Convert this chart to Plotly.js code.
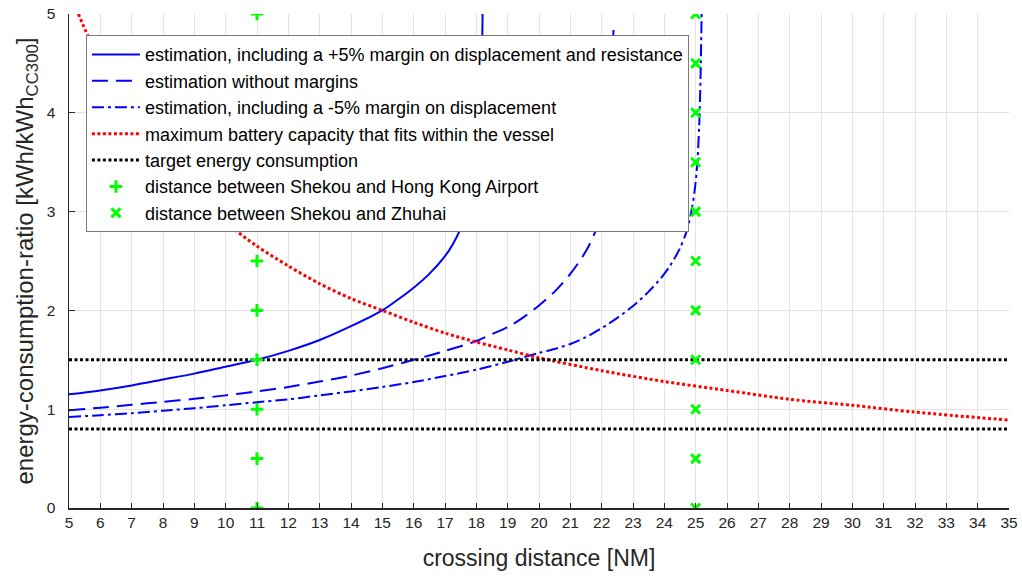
<!DOCTYPE html>
<html>
<head>
<meta charset="utf-8">
<script src="https://cdn.plot.ly/plotly-3.0.1.min.js"></script>
<style>
  html, body { margin: 0; padding: 0; background: #ffffff; }
  #chart { width: 1022px; height: 576px; }
</style>
</head>
<body>
<div id="chart"></div>
<script>
// Energy-consumption ratio versus crossing distance [NM]

// estimation including a +5% margin on displacement and resistance
const plusMarginX = [5, 6, 7, 8, 9, 10, 11, 12, 13, 14, 15, 15.5, 16, 16.5, 17, 17.25, 17.5, 17.7, 17.85, 18.0, 18.1, 18.17, 18.2];
const plusMarginY = [1.15, 1.19, 1.24, 1.30, 1.36, 1.43, 1.50, 1.59, 1.70, 1.84, 2.00, 2.11, 2.23, 2.37, 2.55, 2.67, 2.83, 3.02, 3.22, 3.55, 3.95, 4.45, 5.00];

// estimation without margins
const noMarginX = [5, 6, 7, 8, 9, 10, 11, 12, 13, 14, 15, 16, 17, 18, 18.5, 19, 19.5, 20, 20.5, 21, 21.5, 21.8, 22, 22.15, 22.25, 22.33, 22.38];
const noMarginY = [0.99, 1.015, 1.045, 1.075, 1.105, 1.14, 1.18, 1.225, 1.28, 1.34, 1.415, 1.50, 1.59, 1.69, 1.76, 1.83, 1.93, 2.05, 2.19, 2.37, 2.60, 2.80, 3.00, 3.30, 3.70, 4.20, 4.90];

// estimation including a -5% margin on displacement
const minusMarginX = [5, 6, 7, 8, 9, 10, 11, 12, 13, 14, 15, 16, 17, 18, 19, 20, 20.5, 21, 21.5, 22, 22.5, 23, 23.5, 23.9, 24.2, 24.5, 24.7, 24.85, 24.97, 25.05, 25.11, 25.155, 25.19];
const minusMarginY = [0.92, 0.94, 0.96, 0.985, 1.01, 1.04, 1.07, 1.10, 1.14, 1.18, 1.225, 1.275, 1.335, 1.40, 1.48, 1.57, 1.61, 1.66, 1.73, 1.82, 1.925, 2.045, 2.19, 2.33, 2.46, 2.63, 2.79, 2.98, 3.22, 3.48, 3.85, 4.35, 5.00];

// maximum battery capacity that fits within the vessel
const batteryX = [5.3, 5.6, 6, 6.5, 7, 7.5, 8, 9, 10, 11, 12, 13, 14, 15, 16, 17, 18, 19, 20, 22, 24, 26, 28, 30, 32, 35];
const batteryY = [5.00, 4.78, 4.52, 4.20, 3.95, 3.73, 3.53, 3.18, 2.89, 2.65, 2.45, 2.27, 2.12, 2.00, 1.88, 1.77, 1.68, 1.60, 1.52, 1.39, 1.28, 1.19, 1.10, 1.04, 0.97, 0.89];

// target energy consumption levels
const targetLevels = [1.5, 0.8];
const distanceRange = [5, 35];

// route distances [NM]
const distHongKongAirport = 11;
const distZhuhai = 25;
const markerLevels = [0, 0.5, 1, 1.5, 2, 2.5, 3, 3.5, 4, 4.5, 5];

const names = [
  'estimation, including a +5% margin on displacement and resistance',
  'estimation without margins',
  'estimation, including a -5% margin on displacement',
  'maximum battery capacity that fits within the vessel',
  'target energy consumption',
  'distance between Shekou and Hong Kong Airport',
  'distance between Shekou and Zhuhai'
];

const BLUE = '#0000ff', RED = '#ff0000', GREEN = '#00ff00', BLACK = '#000000';

// horizontal target lines joined into one trace, separated by gaps
const targetX = [], targetY = [];
targetLevels.forEach((lv, i) => {
  if (i > 0) { targetX.push(null); targetY.push(null); }
  targetX.push(distanceRange[0], distanceRange[1]);
  targetY.push(lv, lv);
});

const traces = [
  { x: plusMarginX, y: plusMarginY, name: names[0], mode: 'lines',
    line: { color: BLUE, width: 2, shape: 'spline', smoothing: 0.8 } },
  { x: noMarginX, y: noMarginY, name: names[1], mode: 'lines',
    line: { color: BLUE, width: 2, dash: '16px,8px', shape: 'spline', smoothing: 0.8 } },
  { x: minusMarginX, y: minusMarginY, name: names[2], mode: 'lines',
    line: { color: BLUE, width: 2, dash: '12px,4px,3px,4px', shape: 'spline', smoothing: 0.8 } },
  { x: batteryX, y: batteryY, name: names[3], mode: 'lines',
    line: { color: RED, width: 3, dash: '3px,2.5px', shape: 'spline', smoothing: 0.8 } },
  { x: targetX, y: targetY, name: names[4], mode: 'lines', connectgaps: false,
    line: { color: BLACK, width: 3, dash: '3px,2.5px' } },
  { x: markerLevels.map(() => distHongKongAirport), y: markerLevels, name: names[5], mode: 'markers',
    marker: { symbol: 'cross-thin', size: 9, color: GREEN, line: { color: GREEN, width: 3 } } },
  { x: markerLevels.map(() => distZhuhai), y: markerLevels, name: names[6], mode: 'markers',
    marker: { symbol: 'x-thin', size: 9, color: GREEN, line: { color: GREEN, width: 3 } } }
];

const FONT = 'Liberation Sans, Arial, sans-serif';
const AXIS_COLOR = '#262626';
const GRID_COLOR = '#e3e3e3';

const layout = {
  width: 1022,
  height: 576,
  margin: { l: 69, r: 13, t: 14, b: 68 },
  paper_bgcolor: '#ffffff',
  plot_bgcolor: '#ffffff',
  font: { family: FONT, color: AXIS_COLOR, size: 15 },
  showlegend: true,
  legend: {
    x: 0.018, y: 0.957, xanchor: 'left', yanchor: 'top',
    bgcolor: '#ffffff', bordercolor: '#7a7a7a', borderwidth: 1,
    font: { family: FONT, size: 18, color: '#000000' },
    itemwidth: 48,
    tracegroupgap: 0
  },
  xaxis: {
    range: [5, 35], tick0: 5, dtick: 1,
    showline: true, linecolor: AXIS_COLOR, linewidth: 1.5, mirror: false,
    ticks: 'inside', ticklen: 5, tickwidth: 1, tickcolor: AXIS_COLOR,
    showgrid: true, gridcolor: GRID_COLOR, gridwidth: 1,
    zeroline: false,
    tickfont: { family: FONT, size: 15.5, color: AXIS_COLOR },
    title: { text: 'crossing distance [NM]', font: { family: FONT, size: 23, color: AXIS_COLOR }, standoff: 20 }
  },
  yaxis: {
    range: [0, 5], tick0: 0, dtick: 1,
    showline: true, linecolor: AXIS_COLOR, linewidth: 1.5, mirror: false,
    ticks: 'inside', ticklen: 6, tickwidth: 1, tickcolor: AXIS_COLOR,
    showgrid: true, gridcolor: GRID_COLOR, gridwidth: 1,
    zeroline: false,
    tickfont: { family: FONT, size: 15.5, color: AXIS_COLOR },
    ticklabelstandoff: 9,
    title: { text: 'energy-consumption-ratio [kWh/kWh<sub>CC300</sub>]', font: { family: FONT, size: 24, color: AXIS_COLOR }, standoff: 6 }
  }
};

Plotly.newPlot('chart', traces, layout, { staticPlot: true, displayModeBar: false });
</script>
</body>
</html>
